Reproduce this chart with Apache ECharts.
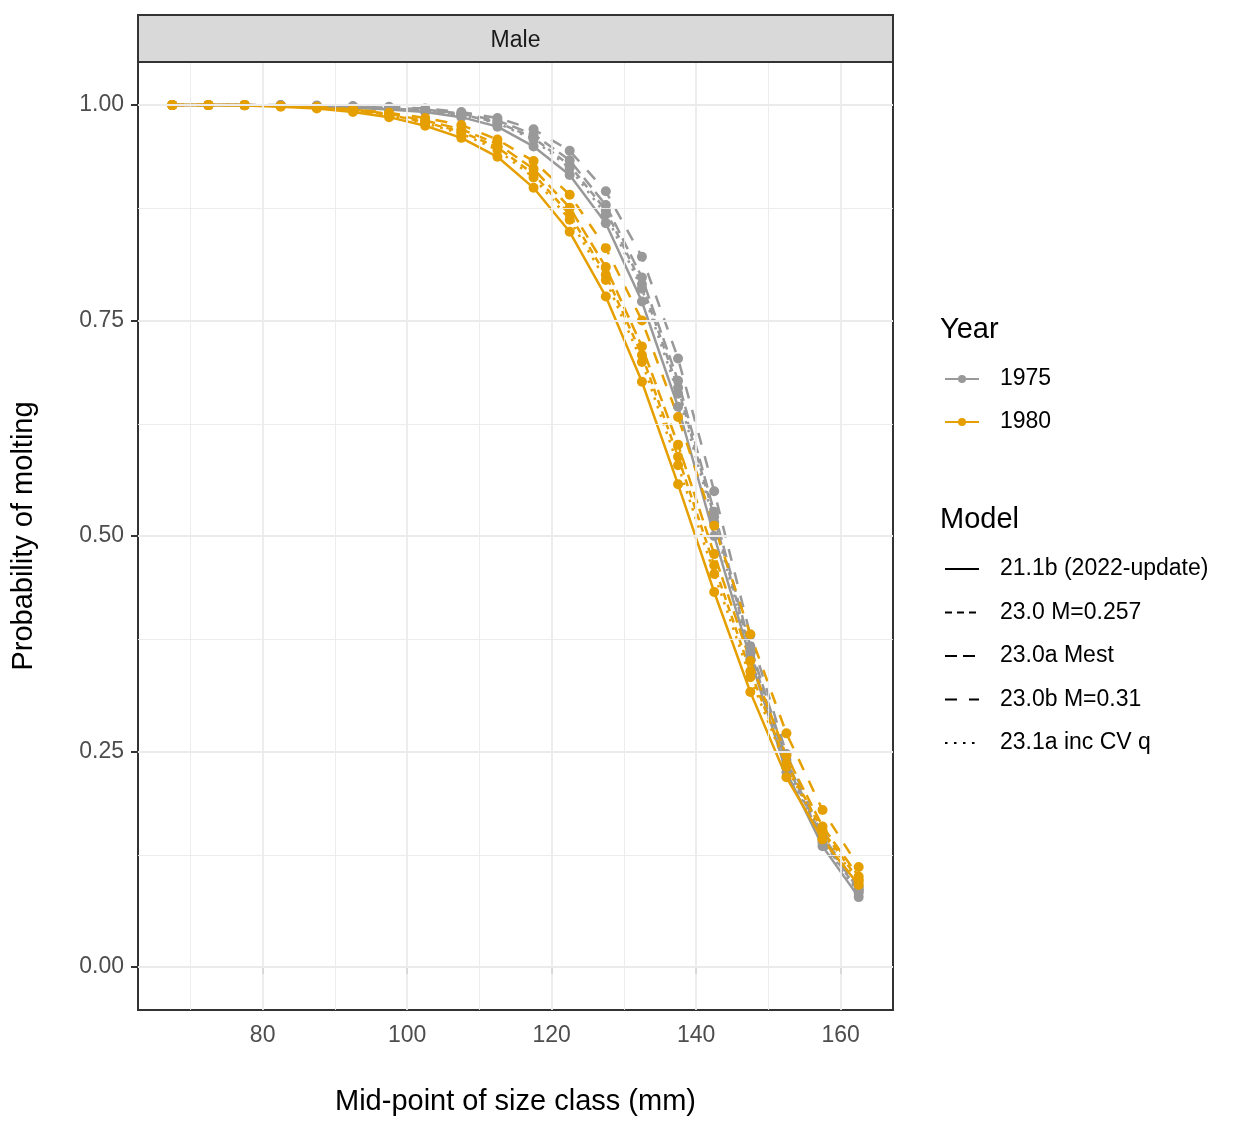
<!DOCTYPE html>
<html>
<head>
<meta charset="utf-8">
<script src="https://cdn.jsdelivr.net/npm/echarts@6/dist/echarts.min.js"></script>
<style>
    html, body { margin: 0; padding: 0; background: #fff; }
    #chart { width: 1242px; height: 1124px; }
</style>
</head>
<body>
<div id="chart"></div>
<script>
// ─── data ───────────────────────────────────────────────────────
const sizeClasses = [67.5, 72.5, 77.5, 82.5, 87.5, 92.5, 97.5, 102.5, 107.5, 112.5,
                     117.5, 122.5, 127.5, 132.5, 137.5, 142.5, 147.5, 152.5, 157.5, 162.5];

const years = ['1975', '1980'];
const models = ['21.1b (2022-update)', '23.0 M=0.257', '23.0a Mest', '23.0b M=0.31', '23.1a inc CV q'];

// 1975
const y1975_m211b = [1.000, 1.000, 1.000, 0.999, 0.998, 0.997, 0.995, 0.992, 0.986, 0.975,
                     0.952, 0.919, 0.863, 0.772, 0.650, 0.500, 0.358, 0.226, 0.140, 0.081];
const y1975_m230  = [1.000, 1.000, 1.000, 0.9995, 0.999, 0.998, 0.996, 0.994, 0.989, 0.980,
                     0.962, 0.930, 0.878, 0.792, 0.672, 0.522, 0.366, 0.236, 0.146, 0.088];
const y1975_m230a = [1.000, 1.000, 1.000, 0.9995, 0.999, 0.998, 0.997, 0.995, 0.990, 0.982,
                     0.966, 0.936, 0.884, 0.800, 0.680, 0.528, 0.372, 0.240, 0.148, 0.090];
const y1975_m230b = [1.000, 1.000, 1.000, 1.000, 0.9995, 0.999, 0.998, 0.996, 0.992, 0.985,
                     0.972, 0.947, 0.900, 0.824, 0.706, 0.552, 0.385, 0.247, 0.152, 0.093];
const y1975_m231a = [1.000, 1.000, 1.000, 0.9995, 0.999, 0.998, 0.996, 0.993, 0.988, 0.979,
                     0.960, 0.927, 0.873, 0.787, 0.665, 0.516, 0.362, 0.232, 0.144, 0.086];

// 1980
const y1980_m211b = [1.000, 1.000, 0.9995, 0.998, 0.996, 0.992, 0.986, 0.976, 0.962, 0.940,
                     0.904, 0.853, 0.778, 0.679, 0.560, 0.435, 0.319, 0.220, 0.148, 0.095];
const y1980_m230  = [1.000, 1.000, 1.000, 0.999, 0.997, 0.994, 0.989, 0.980, 0.969, 0.951,
                     0.920, 0.873, 0.803, 0.710, 0.592, 0.466, 0.343, 0.236, 0.158, 0.101];
const y1980_m230a = [1.000, 1.000, 1.000, 0.999, 0.997, 0.995, 0.990, 0.982, 0.972, 0.955,
                     0.926, 0.881, 0.812, 0.720, 0.606, 0.479, 0.355, 0.245, 0.163, 0.105];
const y1980_m230b = [1.000, 1.000, 1.000, 0.999, 0.998, 0.995, 0.991, 0.985, 0.977, 0.960,
                     0.935, 0.896, 0.834, 0.750, 0.638, 0.512, 0.386, 0.271, 0.182, 0.116];
const y1980_m231a = [1.000, 1.000, 1.000, 0.999, 0.997, 0.994, 0.988, 0.979, 0.967, 0.948,
                     0.916, 0.867, 0.797, 0.702, 0.582, 0.456, 0.336, 0.232, 0.155, 0.099];

const xTicks = [80, 100, 120, 140, 160];
const xMinor = [70, 90, 110, 130, 150];
const yTicks = [0, 0.25, 0.5, 0.75, 1];
const yMinor = [0.125, 0.375, 0.625, 0.875];

// ─── styles ─────────────────────────────────────────────────────
const FONT = '"Liberation Sans", Arial, sans-serif';
const yearColors = { '1975': '#999999', '1980': '#E69F00' };
const modelDash = ['solid', [7, 5], [12, 6], [12, 12], [2.5, 6.5]];
const LINE_W = 2.5;

const curves = {
    '1975': [y1975_m211b, y1975_m230, y1975_m230a, y1975_m230b, y1975_m231a],
    '1980': [y1980_m211b, y1980_m230, y1980_m230a, y1980_m230b, y1980_m231a]
};

/**
 * x/y 배열을 [x, y] 쌍으로
 */
function pairs(ys) {
    return sizeClasses.map((x, i) => [x, ys[i]]);
}

/**
 * 배경 격자선 (ggplot theme_bw 처럼)
 */
function gridSeries(xs, ys, width) {
    return {
        type: 'line',
        name: '__grid' + width,
        data: [],
        silent: true,
        z: 1,
        markLine: {
            silent: true,
            animation: false,
            symbol: ['none', 'none'],
            label: { show: false },
            lineStyle: { color: '#EBEBEB', width: width, type: 'solid' },
            emphasis: { disabled: true },
            data: xs.map(v => ({ xAxis: v })).concat(ys.map(v => ({ yAxis: v })))
        }
    };
}

const series = [gridSeries(xMinor, yMinor, 0.9), gridSeries(xTicks, yTicks, 1.8)];

years.forEach(year => {
    curves[year].forEach((ys, m) => {
        series.push({
            type: 'line',
            name: year,
            data: pairs(ys),
            symbol: 'circle',
            symbolSize: 10,
            z: 3,
            itemStyle: { color: yearColors[year] },
            lineStyle: { color: yearColors[year], width: LINE_W, type: modelDash[m] },
            emphasis: { disabled: true }
        });
    });
});

// Model legend 용 빈 시리즈
models.forEach((name, m) => {
    series.push({
        type: 'line',
        name: name,
        data: [],
        symbol: 'none',
        itemStyle: { color: '#000' },
        lineStyle: { color: '#000', width: 2.5, type: modelDash[m] }
    });
});

const legendText = { fontFamily: FONT, fontSize: 23, color: '#000', padding: [0, 0, 0, 16] };

const option = {
    animation: false,
    textStyle: { fontFamily: FONT },
    title: [
        { text: 'Year', left: 940, top: 315, padding: 0,
          textStyle: { fontFamily: FONT, fontSize: 29, fontWeight: 'normal', color: '#000' } },
        { text: 'Model', left: 940, top: 505, padding: 0,
          textStyle: { fontFamily: FONT, fontSize: 29, fontWeight: 'normal', color: '#000' } }
    ],
    legend: [
        {
            data: years, orient: 'vertical', left: 944, top: 367.5, padding: 0,
            itemWidth: 34, itemHeight: 10, itemGap: 20,
            selectedMode: false, textStyle: legendText
        },
        {
            data: models, orient: 'vertical', left: 944, top: 557.5, padding: 0,
            itemWidth: 34, itemHeight: 10, itemGap: 20.5,
            selectedMode: false, textStyle: legendText,
            itemStyle: { opacity: 0 }
        }
    ],
    grid: {
        left: 138, top: 62, right: 349, bottom: 114,
        show: true, borderColor: '#333333', borderWidth: 2, backgroundColor: 'transparent',
        containLabel: false
    },
    xAxis: {
        type: 'value',
        min: 62.75, max: 167.25,
        name: 'Mid-point of size class (mm)',
        nameLocation: 'middle',
        nameGap: 77,
        nameTextStyle: { fontFamily: FONT, fontSize: 29, color: '#000' },
        axisLine: { show: false },
        axisTick: { show: true, length: 7, customValues: xTicks, lineStyle: { color: '#333333', width: 2 } },
        axisLabel: { customValues: xTicks, margin: 14, fontSize: 23, color: '#4D4D4D', fontFamily: FONT },
        splitLine: { show: false }
    },
    yAxis: {
        type: 'value',
        min: -0.05, max: 1.05,
        name: 'Probability of molting',
        nameLocation: 'middle',
        nameGap: 100,
        nameTextStyle: { fontFamily: FONT, fontSize: 29, color: '#000' },
        axisLine: { show: false },
        axisTick: { show: true, length: 7, customValues: yTicks, lineStyle: { color: '#333333', width: 2 } },
        axisLabel: {
            customValues: yTicks, margin: 14, fontSize: 23, color: '#4D4D4D', fontFamily: FONT,
            padding: [4, 0, 0, 0],
            formatter: v => v.toFixed(2)
        },
        splitLine: { show: false }
    },
    graphic: [
        // facet strip
        {
            type: 'rect', x: 138, y: 15, z: 10,
            shape: { width: 755, height: 47 },
            style: { fill: '#D9D9D9', stroke: '#333333', lineWidth: 2 }
        },
        {
            type: 'text', x: 515.5, y: 41, z: 11,
            style: {
                text: 'Male', fontFamily: FONT, fontSize: 23, fill: '#1A1A1A',
                align: 'center', verticalAlign: 'middle'
            }
        }
    ],
    series: series
};

const chart = echarts.init(document.getElementById('chart'));
chart.setOption(option);
</script>
</body>
</html>
